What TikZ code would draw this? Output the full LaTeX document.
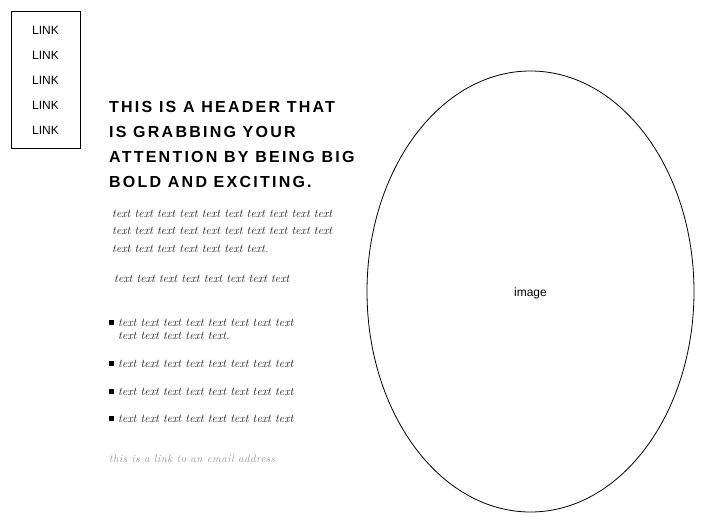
\documentclass[tikz,border=0pt]{standalone}
\usepackage{fontspec}
\setmainfont{Latin Modern Roman}
\newfontfamily\arialf{Liberation Sans}
\newfontfamily\headf[LetterSpace=14]{Liberation Sans}
\newfontfamily\mailf[LetterSpace=4]{Latin Modern Roman}
\usetikzlibrary{shapes.geometric}
\definecolor{txtgray}{HTML}{1E1E1E}
\definecolor{mailgray}{HTML}{9C9C9C}
\tikzset{
  linkitem/.style={font=\arialf\fontsize{12}{14}\selectfont, inner sep=0pt, anchor=center},
  headline/.style={font=\headf\bfseries\fontsize{16}{18}\selectfont, inner sep=0pt, anchor=base west},
  bodyline/.style={font=\fontsize{11.8}{13}\selectfont\itshape, text=txtgray, inner sep=0pt, anchor=base west},
  bulletsq/.style={fill=black, minimum size=4.5pt, inner sep=0pt},
  mailline/.style={font=\mailf\fontsize{10.8}{13}\selectfont\itshape, text=mailgray, inner sep=0pt, anchor=base west},
}
\begin{document}
\begin{tikzpicture}[x=1pt,y=-1pt]
\useasboundingbox (0,0) rectangle (705,524);
% link box
\node[draw, line width=0.8pt, minimum width=69pt, minimum height=137pt, inner sep=0pt] (linkbox) at (45.5,79.5) {};
\node[linkitem] (l1) at (45.5,30) {LINK};
\node[linkitem] (l2) at (45.5,55) {LINK};
\node[linkitem] (l3) at (45.5,80) {LINK};
\node[linkitem] (l4) at (45.5,105) {LINK};
\node[linkitem] (l5) at (45.5,130) {LINK};
% header
\node[headline] (h1) at (109,113) {THIS IS A HEADER THAT};
\node[headline] (h2) at (109,138) {IS GRABBING YOUR};
\node[headline] (h3) at (109,163) {ATTENTION BY BEING BIG};
\node[headline] (h4) at (109,188) {BOLD AND EXCITING.};
% body
\node[bodyline] (p1) at (112,218) {text text text text text text text text text text};
\node[bodyline] (p2) at (112,235) {text text text text text text text text text text};
\node[bodyline] (p3) at (112,252) {text text text text text text text.};
\node[bodyline] (p4) at (114,283) {text text text text text text text text};
% bullets
\node[bulletsq] (b1) at (111.5,322.5) {};
\node[bodyline] (t1) at (118,326) {text text text text text text text text};
\node[bodyline] (t1b) at (118,339.5) {text text text text text.};
\node[bulletsq] (b2) at (111.5,363.5) {};
\node[bodyline] (t2) at (118,367) {text text text text text text text text};
\node[bulletsq] (b3) at (111.5,391.5) {};
\node[bodyline] (t3) at (118,395) {text text text text text text text text};
\node[bulletsq] (b4) at (111.5,418.5) {};
\node[bodyline] (t4) at (118,422) {text text text text text text text text};
% email
\node[mailline] (mail) at (109,462) {this is a link to an email address};
% image
\node[ellipse, draw, line width=0.8pt, minimum width=327pt, minimum height=441pt, inner sep=0pt] (img) at (530.5,291.5) {};
\node[linkitem] (imgtxt) at (530.5,293) {image};
\end{tikzpicture}
\end{document}
